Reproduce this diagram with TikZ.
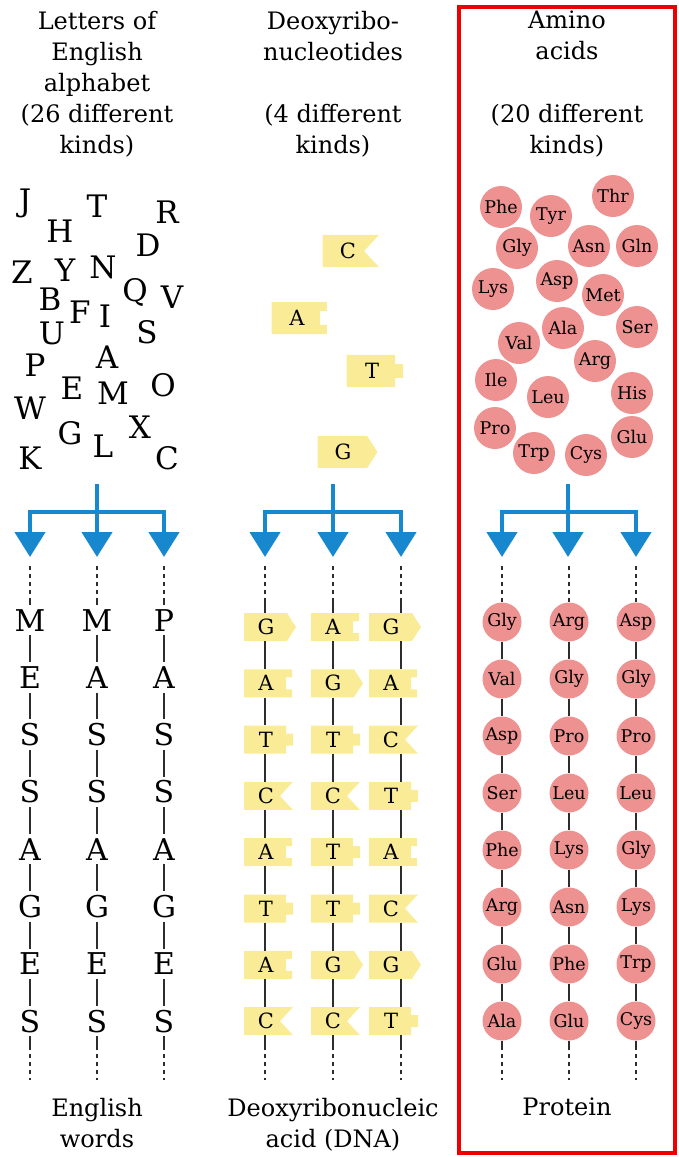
\documentclass[tikz,border=0pt]{standalone}
\usepackage{fontspec}
\setmainfont{DejaVu Serif}
\usetikzlibrary{arrows.meta}

\definecolor{flowblue}{RGB}{24,136,206}
\definecolor{nucyellow}{RGB}{250,236,150}
\definecolor{aminopink}{RGB}{238,145,145}
\definecolor{framered}{RGB}{238,0,0}
\definecolor{chaingray}{RGB}{45,45,45}

% nucleotide outlines: a block whose right side carries the base-specific key
\newcommand\nucshapeG{\fill[nucfill] (-22,-14) -- (21,-14) -- (30,0) -- (21,14) -- (-22,14) -- cycle;}
\newcommand\nucshapeC{\fill[nucfill] (-22,-14) -- (27,-14) -- (14,0) -- (27,14) -- (-22,14) -- cycle;}
\newcommand\nucshapeA{\fill[nucfill] (-22,-14) -- (26,-14) -- (26,-6) -- (20,-6) -- (20,6) -- (26,6) -- (26,14) -- (-22,14) -- cycle;}
\newcommand\nucshapeT{\fill[nucfill] (-22,-14) -- (20,-14) -- (20,-6) -- (27,-6) -- (27,6) -- (20,6) -- (20,14) -- (-22,14) -- cycle;}

% \nucleo[scale]{name}{x}{y}{letter}{base}
\newcommand\nucleo[6][1]{%
  \begin{scope}[shift={(#3,{#4})},scale=#1]\csname nucshape#6\endcsname\end{scope}
  \node[nucbox,minimum height=#1*28pt] (#2) at (#3,{#4}) {#5};}

\begin{document}
\begin{tikzpicture}[x=1pt,y=-1pt,
  head/.style={font=\fontsize{24}{31}\selectfont,align=center,inner sep=0pt,anchor=north},
  letter/.style={font=\fontsize{31}{31}\selectfont,inner sep=0pt,text height=22.5pt,text depth=0pt},
  wordletter/.style={letter,font=\fontsize{30}{30}\selectfont,text height=22pt,inner ysep=4pt},
  nucfill/.style={fill=nucyellow},
  nucbox/.style={font=\fontsize{21}{21}\selectfont,inner sep=0pt,minimum width=42pt},
  aminobig/.style={circle,fill=aminopink,minimum size=42pt,inner sep=0pt,font=\fontsize{17.5}{17.5}\selectfont},
  amino/.style={aminobig,minimum size=39pt},
  flow/.style={draw=flowblue,line width=4.5pt,line join=miter},
  flowtip/.style={flow,-{Triangle[width=30pt,length=25pt]}},
  chain/.style={draw=chaingray,line width=1.3pt},
  dashchain/.style={chain,dash pattern=on 4pt off 4pt}]

\useasboundingbox (0,0) rectangle (678,1157);

% frame around the protein column
\draw[framered,line width=4pt] (459,7) rectangle (675,1153);

% column headings
\node[head] (h1) at (97,11) {Letters of\\English\\alphabet\\(26 different\\kinds)};
\node[head] (h2a) at (333,11) {Deoxyribo-\\nucleotides};
\node[head] (h2b) at (333,104) {(4 different\\kinds)};
\node[head] (h3a) at (567,11) {Amino\\acids};
\node[head] (h3b) at (567,104) {(20 different\\kinds)};

% the alphabet
\foreach \l/\x/\y in {J/25/200, T/97/206, R/167/212, H/60/231, D/148/245,
    Z/22/272, Y/65/270, N/103/267, Q/135/290, V/172/297, B/50/299,
    F/80/312, I/105/316, U/52/333, S/147/332, A/107/357, P/35/365,
    E/72/388, M/113/393, O/163/385, W/30/408, G/70/433, X/140/427,
    L/103/446, K/30/458, C/167/458}
  \node[letter] (abc\l) at (\x,\y) {\l};

% the four deoxyribonucleotides
\nucleo[1.15]{freeC}{348}{251}{C}{C}
\nucleo[1.15]{freeA}{297}{318}{A}{A}
\nucleo[1.15]{freeT}{372}{371}{T}{T}
\nucleo[1.15]{freeG}{343}{452}{G}{G}

% the twenty amino acids
\foreach \n/\x/\y in {Phe/501/207, Thr/613/196, Tyr/551/216, Gly/517/248,
    Asn/589/246, Gln/637/246, Lys/493/289, Asp/557/281, Met/603/295,
    Ala/563/328, Ser/637/327, Val/519/343, Arg/595/361, Ile/496/380,
    Leu/548/397, His/632/393, Pro/495/428, Glu/632/437, Trp/534/453,
    Cys/586/455}
  \node[aminobig] (aa\n) at (\x,\y) {\n};

% branching arrows under each set of building blocks
\foreach \c/\xl/\xm/\xr in {1/30/97/164, 2/265/333/401, 3/502/568/636} {
  \coordinate (s\c) at (\xm,484);
  \coordinate (j\c) at (\xm,512);
  \coordinate (tl\c) at (\xl,557);
  \coordinate (tm\c) at (\xm,557);
  \coordinate (tr\c) at (\xr,557);
  \draw[flow] (s\c) -- (j\c);
  \draw[flowtip] (j\c) -| (tl\c);
  \draw[flowtip] (j\c) -| (tr\c);
  \draw[flowtip] (s\c) -- (tm\c);
}

% English words
\foreach \l [count=\r] in {M,E,S,S,A,G,E,S}
  \node[wordletter] (w1\r) at (30,{620+57.3*(\r-1)}) {\l};
\foreach \l [count=\r] in {M,A,S,S,A,G,E,S}
  \node[wordletter] (w2\r) at (97,{620+57.3*(\r-1)}) {\l};
\foreach \l [count=\r] in {P,A,S,S,A,G,E,S}
  \node[wordletter] (w3\r) at (164,{620+57.3*(\r-1)}) {\l};

% DNA strands
\foreach \l [count=\r] in {G,A,T,C,A,T,A,C}
  {\nucleo{n1\r}{266}{627+56.3*(\r-1)}{\l}{\l}}
\foreach \l [count=\r] in {A,G,T,C,T,T,G,C}
  {\nucleo{n2\r}{333}{627+56.3*(\r-1)}{\l}{\l}}
\foreach \l [count=\r] in {G,A,C,T,A,C,G,T}
  {\nucleo{n3\r}{391}{627+56.3*(\r-1)}{\l}{\l}}

% protein chains
\foreach \n [count=\r] in {Gly,Val,Asp,Ser,Phe,Arg,Glu,Ala}
  \node[amino] (p1\r) at (502,{622+57*(\r-1)}) {\n};
\foreach \n [count=\r] in {Arg,Gly,Pro,Leu,Lys,Asn,Phe,Glu}
  \node[amino] (p2\r) at (569,{622+57*(\r-1)}) {\n};
\foreach \n [count=\r] in {Asp,Gly,Pro,Leu,Gly,Lys,Trp,Cys}
  \node[amino] (p3\r) at (636,{622+57*(\r-1)}) {\n};

% chain line positions
\foreach \k/\x in {w1/30, w2/97, w3/164, n1/265, n2/333, n3/401, p1/502, p2/569, p3/636} {
  \coordinate (\k top) at (\x,566);
  \coordinate (\k mid) at (\x,598);
  \coordinate (\k low) at (\x,1046);
  \coordinate (\k end) at (\x,1080);
  \draw[dashchain] (\k top) -- (\k mid);
  \draw[dashchain] (\k low) -- (\k end);
}

% links between neighbouring units
\foreach \k in {w1,w2,w3,p1,p2,p3} {
  \draw[chain] (\k mid) -- (\k1.north);
  \draw[chain] (\k8.south) -- (\k low);
  \foreach \r [count=\n from 2] in {1,...,7}
    \draw[chain] (\k\r.south) -- (\k\n.north);
}
\foreach \k in {n1,n2,n3} {
  \draw[chain] (\k mid) -- (\k1.north -| \k mid);
  \draw[chain] (\k8.south -| \k mid) -- (\k low);
  \foreach \r [count=\n from 2] in {1,...,7}
    \draw[chain] (\k\r.south -| \k mid) -- (\k\n.north -| \k mid);
}

% names of the polymers
\node[head] (l1) at (97,1098) {English\\words};
\node[head] (l2) at (333,1098) {Deoxyribonucleic\\acid (DNA)};
\node[head] (l3) at (567,1098) {Protein};

\end{tikzpicture}
\end{document}
